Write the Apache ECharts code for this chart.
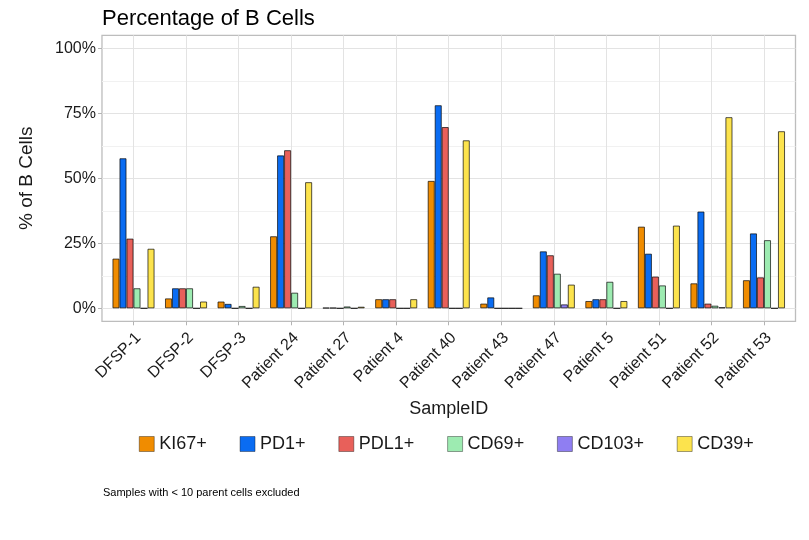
<!DOCTYPE html>
<html>
<head>
<meta charset="utf-8">
<title>Percentage of B Cells</title>
<script src="https://cdn.jsdelivr.net/npm/echarts@6/dist/echarts.min.js"></script>
<style>
    html, body { margin: 0; padding: 0; background: #fff; }
    #chart { width: 809px; height: 540px; }
</style>
</head>
<body>
<div id="chart"></div>
<script>
// 样本
const categories = ['DFSP-1', 'DFSP-2', 'DFSP-3', 'Patient 24', 'Patient 27', 'Patient 4', 'Patient 40',
    'Patient 43', 'Patient 47', 'Patient 5', 'Patient 51', 'Patient 52', 'Patient 53']

// 各标记物的 B 细胞百分比
const ki67 = [19.1, 3.8, 2.6, 27.7, 0.2, 3.5, 49.0, 1.8, 5.0, 2.8, 31.4, 9.6, 10.8]
const pd1 = [57.7, 7.7, 1.7, 58.8, 0.2, 3.5, 78.1, 4.2, 21.9, 3.5, 21.0, 37.2, 28.8]
const pdl1 = [26.8, 7.7, 0, 60.8, 0, 3.5, 69.7, 0, 20.4, 3.5, 12.2, 1.8, 11.9]
const cd69 = [7.7, 7.7, 0.9, 6.0, 0.7, 0, 0, 0, 13.3, 10.2, 8.8, 1.0, 26.2]
const cd103 = [0, 0, 0, 0, 0, 0, 0, 0, 1.5, 0, 0, 0.4, 0]
const cd39 = [22.9, 2.6, 8.3, 48.5, 0.6, 3.5, 64.6, 0, 9.1, 2.8, 31.8, 73.5, 68.1]

const seriesNames = ['KI67+', 'PD1+', 'PDL1+', 'CD69+', 'CD103+', 'CD39+']
const seriesValues = [ki67, pd1, pdl1, cd69, cd103, cd39]
const seriesColors = ['#F08C00', '#0A6CF2', '#E8605A', '#9DEBB1', '#8F7EF2', '#FCE34D']

const yTicks = [0, 25, 50, 75, 100]

const FONT = '"Liberation Sans", Arial, sans-serif'
const TEXT_COLOR = '#1a1a1a'
const GRID_COLOR = '#e3e3e3'

// 面板几何 (ggplot 风格：离散轴两端留 0.6 个类目)
const STEP = 52.54
const CENTER0 = 133.5
const Y100 = 48.3
const Y0 = 308.3
const PX_PER = (Y0 - Y100) / 100
const panel = {
    left: CENTER0 - 0.6 * STEP,
    width: STEP * 13.2,
    top: Y100 - 5 * PX_PER,
    height: 110 * PX_PER,
}
// x 轴标签相对类目中心的横向偏移
const LABEL_SHIFT = 5

const hiddenAxis = (gridIndex) => ({ type: 'value', gridIndex, show: false })

const buildOption = () => {
    const series = seriesNames.map((name, i) => ({
        name,
        type: 'bar',
        xAxisIndex: 3,
        yAxisIndex: 3,
        barGap: '0%',
        barCategoryGap: '20%',
        data: seriesValues[i],
        itemStyle: {
            color: seriesColors[i],
            borderColor: 'rgba(0,0,0,0.75)',
            borderWidth: 0.9,
        },
        emphasis: { disabled: true },
    }))

    return {
        animation: false,
        textStyle: { fontFamily: FONT },
        title: [
            {
                text: 'Percentage of B Cells',
                left: 97,
                top: 3,
                textStyle: { fontFamily: FONT, fontSize: 22, fontWeight: 'normal', color: '#000' },
            },
            {
                text: 'Samples with < 10 parent cells excluded',
                left: 98,
                top: 482,
                textStyle: { fontFamily: FONT, fontSize: 11, fontWeight: 'normal', color: '#000' },
            },
        ],
        legend: {
            data: seriesNames,
            left: 134,
            top: 430,
            itemWidth: 15,
            itemHeight: 15,
            itemGap: 33,
            icon: 'rect',
            itemStyle: { borderWidth: 0.5 },
            textStyle: { fontFamily: FONT, fontSize: 18, color: TEXT_COLOR },
        },
        grid: [
            // 0 面板边框
            { left: panel.left, width: panel.width, top: panel.top, height: panel.height,
              show: true, borderColor: '#bdbdbd', borderWidth: 1.3, backgroundColor: 'transparent' },
            // 1 竖向网格线（类目中心）
            { left: CENTER0, width: STEP * 12, top: panel.top, height: panel.height },
            // 2 横向网格线 + y 轴
            { left: panel.left, width: panel.width, top: Y100, height: Y0 - Y100 },
            // 3 柱子
            { left: CENTER0 - STEP / 2, width: STEP * 13, top: Y100, height: Y0 - Y100 },
            // 4 x 轴标签
            { left: CENTER0 - STEP / 2 + LABEL_SHIFT, width: STEP * 13, top: Y100, height: Y0 - Y100 },
        ],
        xAxis: [
            hiddenAxis(0),
            {
                type: 'value', gridIndex: 1, min: 0, max: 12, interval: 1,
                axisLine: { show: false },
                axisLabel: { show: false },
                axisTick: { show: true, length: 4, lineStyle: { color: '#b3b3b3' } },
                splitLine: { show: true, lineStyle: { color: GRID_COLOR, width: 1 } },
            },
            hiddenAxis(2),
            {
                type: 'category', gridIndex: 3, data: categories,
                axisLine: { show: false },
                axisTick: { show: false },
                axisLabel: { show: false },
                name: 'SampleID',
                nameLocation: 'middle',
                nameGap: 92,
                nameTextStyle: { fontFamily: FONT, fontSize: 18, color: TEXT_COLOR },
            },
            {
                type: 'category', gridIndex: 4, data: categories,
                axisLine: { show: false },
                axisTick: { show: false },
                axisLabel: {
                    rotate: 45, margin: 27, interval: 0,
                    fontFamily: FONT, fontSize: 16, color: TEXT_COLOR,
                },
            },
        ],
        yAxis: [
            hiddenAxis(0),
            hiddenAxis(1),
            {
                type: 'value', gridIndex: 2, min: 0, max: 100, interval: 25,
                axisLine: { show: false },
                axisTick: { show: true, length: 4, lineStyle: { color: '#b3b3b3' } },
                axisLabel: {
                    margin: 6, fontFamily: FONT, fontSize: 16, color: TEXT_COLOR,
                    formatter: (v) => yTicks.includes(v) ? `${v}%` : '',
                },
                splitLine: { show: true, lineStyle: { color: GRID_COLOR, width: 1 } },
                minorTick: { show: false, splitNumber: 2 },
                minorSplitLine: { show: true, lineStyle: { color: '#f1f1f1', width: 1 } },
                name: '% of B Cells',
                nameLocation: 'middle',
                nameRotate: 90,
                nameGap: 66,
                nameTextStyle: { fontFamily: FONT, fontSize: 19, color: TEXT_COLOR },
            },
            { type: 'value', gridIndex: 3, min: 0, max: 100, show: false },
            hiddenAxis(4),
        ],
        series,
    }
}

const myChart = echarts.init(document.getElementById('chart'), null, { renderer: 'canvas' })
myChart.setOption(buildOption())
window.addEventListener('resize', () => {
    myChart.resize()
})
</script>
</body>
</html>
